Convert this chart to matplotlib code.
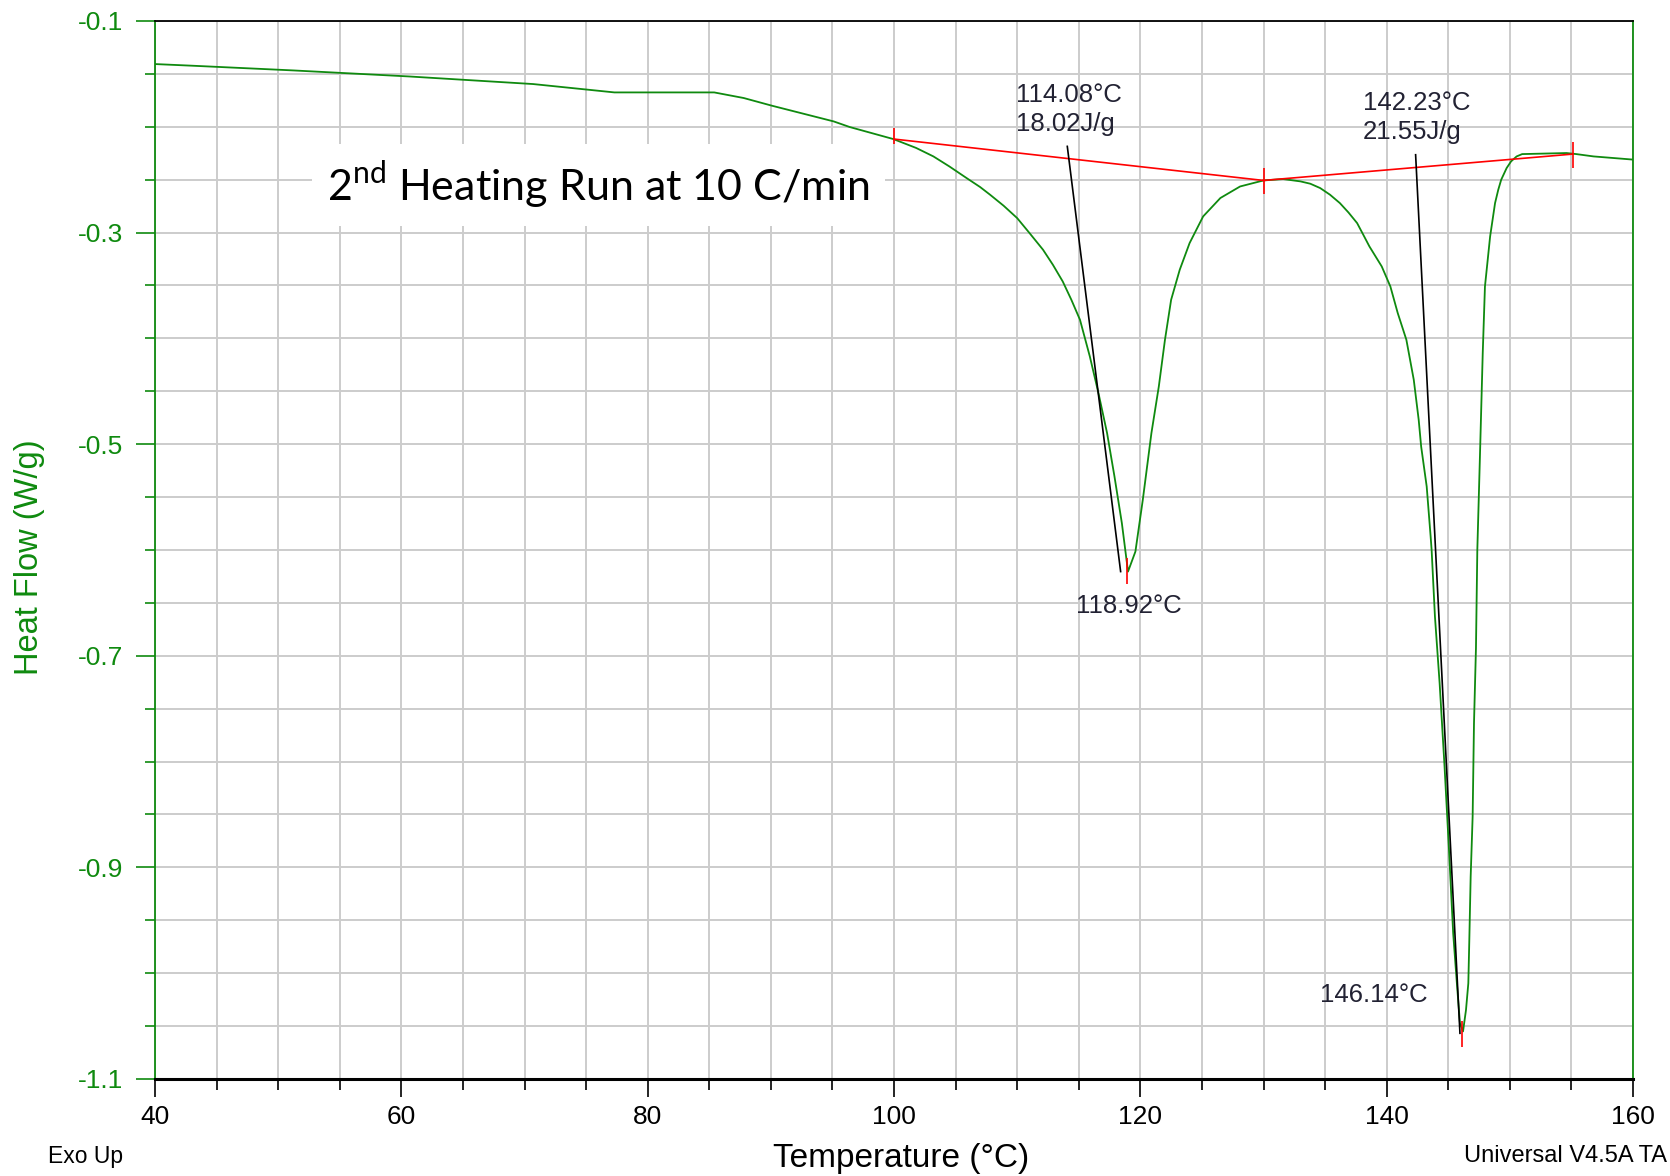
import matplotlib
matplotlib.use("Agg")
import matplotlib.pyplot as plt
from matplotlib.ticker import MultipleLocator, FixedLocator, FormatStrFormatter

plt.rcParams["font.family"] = ["Liberation Sans", "DejaVu Sans"]
plt.rcParams["mathtext.fontset"] = "custom"
plt.rcParams["mathtext.rm"] = "Lato"

# DSC trace
temp = [40.0, 43.1, 51.2, 60.6, 70.7, 77.3, 85.4, 87.8, 90.1, 95.1, 96.4, 99.95,
        101.8, 103.2, 104.5, 105.9, 107.0, 107.8, 108.9, 110.0, 111.0, 112.1,
        112.9, 113.7, 114.4, 115.1, 115.9, 116.6, 117.3, 117.9, 118.5, 119.0,
        119.6, 120.2, 120.9, 121.5, 122.0, 122.5, 123.2, 124.0, 125.1, 126.5,
        128.1, 130.0, 131.6, 133.0, 133.8, 134.6, 135.4, 136.2, 136.9, 137.6,
        138.1, 138.6, 139.6, 140.3, 140.9, 141.6, 142.2, 142.6, 142.8, 143.25,
        143.57, 143.65, 143.92, 144.3, 144.7, 145.06, 145.4, 145.7, 145.95,
        146.2, 146.44, 146.63, 146.71, 146.82, 146.98, 147.09, 147.25, 147.36,
        147.58, 147.8, 147.98, 148.4, 148.8, 149.06, 149.3, 149.74, 150.1,
        150.55, 151.0, 154.6, 155.4, 156.8, 160.0]
heat_flow = [-0.1407, -0.1423, -0.1467, -0.1524, -0.1596, -0.1675, -0.1675,
             -0.1728, -0.1801, -0.1949, -0.2002, -0.2116, -0.2200, -0.2280,
             -0.2375, -0.2485, -0.2570, -0.2642, -0.2746, -0.2863, -0.3004,
             -0.3162, -0.3304, -0.3462, -0.3635, -0.3824, -0.4171, -0.4517,
             -0.4895, -0.5305, -0.5746, -0.6204, -0.6015, -0.5526, -0.4895,
             -0.4455, -0.4013, -0.3635, -0.3351, -0.3099, -0.2847, -0.2673,
             -0.2564, -0.2507, -0.2494, -0.2516, -0.2538, -0.2579, -0.2642,
             -0.2721, -0.2810, -0.2910, -0.3020, -0.3131, -0.3320, -0.3509,
             -0.3761, -0.4013, -0.4391, -0.4769, -0.5022, -0.5400, -0.5873,
             -0.6000, -0.6630, -0.7259, -0.8047, -0.8835, -0.9622, -1.0095,
             -1.0473, -1.0550, -1.0348, -1.0095, -0.9686, -0.9087, -0.8520,
             -0.7637, -0.6928, -0.6000, -0.5084, -0.4139, -0.3509, -0.3036,
             -0.2721, -0.2595, -0.2500, -0.2390, -0.2327, -0.2280, -0.2258,
             -0.2248, -0.2258, -0.2280, -0.2310]

# integration baselines (red) and onset tangents (black)
base_t = [[100.0, 130.0], [130.0, 155.1]]
base_v = [[-0.2116, -0.2507], [-0.2507, -0.2258]]
tang_t = [[114.07, 118.40], [142.35, 145.95]]
tang_v = [[-0.2185, -0.6204], [-0.2264, -1.0568]]
peak_t = [118.92, 146.14]
peak_v = [-0.6203, -1.0575]

onset_labels = ["114.08°C\n18.02J/g", "142.23°C\n21.55J/g"]
peak_labels = ["118.92°C", "146.14°C"]
y_major = [-1.1, -0.9, -0.7, -0.5, -0.3, -0.1]

green = "#0f8a0f"
note_color = "#222233"

fig = plt.figure(figsize=(16.7, 11.76), dpi=100)
ax = fig.add_axes([155 / 1670, 1 - 1079 / 1176, 1478 / 1670, 1058 / 1176])

ax.plot(temp, heat_flow, color=green, lw=1.3, zorder=3)
for t, v in zip(base_t, base_v):
    ax.plot(t, v, color="red", lw=1.2, zorder=4)
for t, v in zip(tang_t, tang_v):
    ax.plot(t, v, color="black", lw=1.2, zorder=4)
# red limit / peak markers
ax.plot([100.0], [-0.2091], marker="|", ms=12, mew=1.2, color="red", zorder=5)
ax.plot([130.0, 155.1], [-0.2513, -0.2264], ls="none", marker="|", ms=19,
        mew=1.2, color="red", zorder=5)
ax.plot(peak_t, peak_v, ls="none", marker="|", ms=19, mew=1.2, color="red", zorder=5)

ax.set_xlim(40, 160)
ax.set_ylim(-1.1, -0.1)
ax.xaxis.set_major_locator(MultipleLocator(20))
ax.xaxis.set_minor_locator(MultipleLocator(5))
ax.yaxis.set_major_locator(FixedLocator(y_major))
ax.yaxis.set_minor_locator(MultipleLocator(0.05))
ax.yaxis.set_major_formatter(FormatStrFormatter("%.1f"))
ax.grid(which="both", color="#cccccc", lw=1.4, zorder=0)
ax.set_axisbelow(True)

ax.tick_params(axis="x", which="major", length=13, width=1.2, labelsize=19,
               pad=6, color="black")
ax.tick_params(axis="x", which="minor", length=8, width=1.2, color="black")
ax.tick_params(axis="y", which="major", length=14, width=1.2, labelsize=19,
               pad=9, color=green, labelcolor=green)
ax.tick_params(axis="y", which="minor", length=7, width=1.2, color=green)

for side in ["left", "right"]:
    ax.spines[side].set_color(green)
    ax.spines[side].set_linewidth(1.3)
ax.spines["top"].set_color("black")
ax.spines["top"].set_linewidth(1.3)
ax.spines["bottom"].set_color("black")
ax.spines["bottom"].set_linewidth(2.2)

ax.text(109.9, -0.159, onset_labels[0], fontsize=18.5, color=note_color,
        va="top", ha="left", linespacing=1.25, zorder=6)
ax.text(138.05, -0.166, onset_labels[1], fontsize=18.5, color=note_color,
        va="top", ha="left", linespacing=1.25, zorder=6)
ax.text(114.8, -0.642, peak_labels[0], fontsize=18.5, color=note_color,
        va="top", ha="left", zorder=6)
ax.text(134.6, -1.009, peak_labels[1], fontsize=18.5, color=note_color,
        va="top", ha="left", zorder=6)

ax.text(76.0, -0.2552, r"2$^{\mathrm{nd}}$ Heating Run at 10 C/min",
        fontsize=31, family="Lato", ha="center", va="center", color="black",
        bbox=dict(boxstyle="square,pad=0.35", fc="white", ec="none"), zorder=6)

fig.text(30 / 1670, 1 - 557 / 1176, "Heat Flow (W/g)", rotation=90, color=green,
         fontsize=23.5, ha="center", va="center")
fig.text(901 / 1670, 1 - 1159 / 1176, "Temperature (°C)", color="black",
         fontsize=24, ha="center", va="center")
fig.text(48 / 1670, 1 - 1156 / 1176, "Exo Up", fontsize=16.5, ha="left", va="center")
fig.text(1667 / 1670, 1 - 1156 / 1176, "Universal V4.5A TA", fontsize=17,
         ha="right", va="center")

fig.savefig("out.png", dpi=100, facecolor="white")
